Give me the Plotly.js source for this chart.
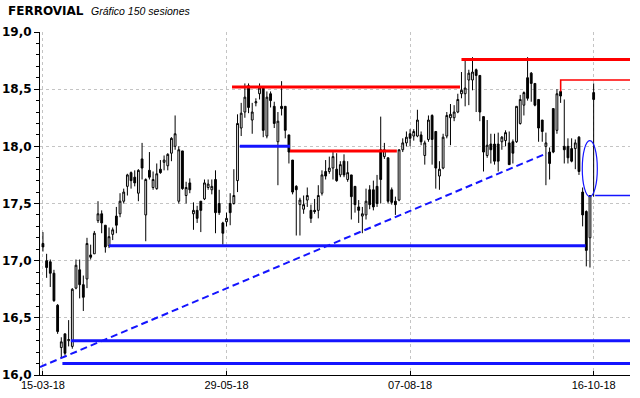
<!DOCTYPE html>
<html><head><meta charset="utf-8">
<script src="https://cdn.plot.ly/plotly-3.0.1.min.js"></script>
<style>html,body{margin:0;padding:0;background:#fff}#chart{width:640px;height:398px}</style>
</head><body><div id="chart"></div>
<script>
// Session index 0..150 (15-03-18 .. 16-10-18)
const tickSessions = [0, 50, 100, 150];
const tickLabels = ['15-03-18', '29-05-18', '07-08-18', '16-10-18'];

const openP = [17.15,17.00,16.99,16.89,16.61,16.24,16.36,16.30,16.25,16.76,16.92,16.79,16.84,17.05,17.06,17.35,17.41,17.31,17.13,17.23,
17.39,17.41,17.52,17.65,17.77,17.73,17.59,17.89,17.40,17.79,17.64,17.63,17.80,17.86,17.83,17.94,18.00,17.52,17.96,17.57,
17.68,17.41,17.44,17.52,17.54,17.64,17.62,17.71,17.50,17.33,17.34,17.50,17.50,17.70,18.16,18.30,18.53,18.23,18.38,18.46,
18.52,18.09,18.46,18.35,18.04,18.35,18.35,18.10,17.88,17.65,17.49,17.45,17.53,17.44,17.44,17.44,17.59,17.78,17.78,17.81,
17.80,17.75,17.87,17.71,17.75,17.65,17.47,17.39,17.40,17.62,17.62,17.65,17.97,17.91,17.90,17.62,17.52,17.53,17.97,18.03,
18.11,18.09,18.09,18.10,17.92,18.06,18.27,18.13,17.74,17.81,18.09,18.25,18.25,18.30,18.46,18.46,18.58,18.58,18.67,18.62,
18.26,17.92,18.02,18.02,18.02,18.04,18.05,18.03,18.04,18.04,18.20,18.36,18.60,18.64,18.55,18.41,18.23,18.00,17.95,18.33,
18.14,18.48,18.00,18.00,17.98,17.98,18.08,17.60,17.43,17.20,18.47];
const highP = [17.25,17.06,17.01,16.92,16.62,16.33,16.36,16.48,16.76,17.01,17.01,16.87,17.20,17.14,17.26,17.52,17.44,17.31,17.29,17.29,
17.47,17.59,17.63,17.76,17.78,17.79,17.80,18.03,17.72,17.95,17.78,17.85,17.88,17.92,17.94,18.08,18.27,18.00,17.96,17.69,
17.72,17.51,17.48,17.52,17.71,17.71,17.71,17.79,17.62,17.34,17.42,17.59,17.80,18.28,18.38,18.55,18.55,18.38,18.42,18.55,
18.52,18.48,18.48,18.39,18.30,18.57,18.35,18.10,17.88,17.66,17.55,17.57,17.64,17.49,17.54,17.66,17.79,17.88,17.91,17.95,
17.94,17.87,17.93,17.87,17.75,17.65,17.53,17.47,17.63,17.66,17.70,17.75,18.26,18.03,17.90,17.64,17.56,17.97,18.07,18.13,
18.15,18.15,18.32,18.13,18.05,18.27,18.28,18.13,17.87,18.11,18.30,18.37,18.36,18.46,18.65,18.77,18.67,18.78,18.68,18.62,
18.26,18.23,18.11,18.11,18.12,18.09,18.14,18.13,18.06,18.35,18.45,18.48,18.78,18.65,18.55,18.41,18.23,18.12,17.99,18.33,
18.50,18.58,18.41,18.07,18.07,18.06,18.09,17.64,17.44,17.57,18.55];
const lowP = [17.08,16.85,16.77,16.64,16.36,16.15,16.17,16.25,16.23,16.75,16.67,16.56,16.76,17.01,17.06,17.33,17.24,17.07,17.11,17.18,
17.24,17.38,17.50,17.57,17.63,17.65,17.52,17.71,17.17,17.71,17.62,17.62,17.76,17.79,17.79,17.87,17.97,17.50,17.62,17.50,
17.59,17.27,17.33,17.25,17.53,17.62,17.58,17.24,17.40,17.14,17.30,17.31,17.49,17.60,18.09,18.25,18.29,18.11,18.35,18.41,
18.08,18.07,18.34,18.16,17.66,18.27,18.07,17.85,17.58,17.22,17.22,17.41,17.47,17.33,17.41,17.37,17.57,17.71,17.76,17.71,
17.69,17.73,17.73,17.69,17.36,17.42,17.33,17.24,17.36,17.45,17.44,17.47,17.50,17.89,17.50,17.49,17.40,17.52,17.95,18.00,
18.00,18.05,18.08,18.01,17.84,18.04,17.84,17.63,17.62,17.80,18.07,18.01,18.22,18.29,18.42,18.35,18.36,18.49,18.30,18.22,
17.78,17.90,17.85,17.84,17.78,17.97,18.00,17.84,17.85,18.03,18.19,18.27,18.40,18.39,18.35,18.04,18.04,17.66,17.71,17.94,
18.11,18.38,17.85,17.85,17.86,17.80,17.75,17.30,16.95,16.94,17.56];
const closeP = [17.12,16.94,16.89,16.65,16.38,16.29,16.19,16.31,16.75,16.96,16.79,16.68,17.15,17.03,17.24,17.41,17.33,17.12,17.21,17.27,
17.31,17.52,17.60,17.75,17.70,17.68,17.79,17.81,17.71,17.73,17.71,17.76,17.77,17.88,17.93,18.07,18.11,17.97,17.63,17.64,
17.62,17.44,17.37,17.44,17.68,17.67,17.65,17.42,17.42,17.24,17.37,17.42,17.57,18.20,18.29,18.43,18.34,18.30,18.39,18.51,
18.14,18.43,18.40,18.20,18.22,18.33,18.14,17.95,17.60,17.62,17.53,17.49,17.57,17.37,17.43,17.57,17.75,17.74,17.81,17.91,
17.70,17.84,17.75,17.77,17.56,17.49,17.44,17.41,17.52,17.49,17.47,17.50,17.71,17.97,17.52,17.51,17.49,17.97,18.03,18.08,
18.07,18.13,18.23,18.04,18.03,18.23,18.06,17.81,17.80,18.08,18.27,18.28,18.30,18.41,18.49,18.51,18.64,18.65,18.62,18.30,
17.95,18.01,17.97,17.87,17.87,18.08,18.12,17.84,17.94,18.35,18.41,18.47,18.42,18.55,18.36,18.16,18.13,18.03,17.85,17.95,
18.46,18.44,17.97,17.90,17.87,18.03,17.78,17.40,17.09,17.57,18.41];

// Drawn lines: [startSession, endSession, level]
const redLevels = [[51.5, 113.6, 18.52], [67.3, 96.4, 17.96], [114.0, 160, 18.76]];
const blueLevels = [[53.6, 67.3, 18.00], [18.0, 147.8, 17.13], [7.6, 160, 16.30], [5.3, 160, 16.10]];
const trendX = [-0.8, 137.3];
const trendY = [16.07, 17.94];
const thinRedX = [141.0, 141.0, 160];
const thinRedY = [18.48, 18.58, 18.58];
const thinBlueX = [150.4, 160];
const thinBlueY = [17.57, 17.57];
const ellipseX = [146.9, 151.0];
const ellipseY = [17.56, 18.05];

const idx = closeP.map((_, i) => i);
const traces = [{
  type: 'candlestick', x: idx, open: openP, high: highP, low: lowP, close: closeP,
  increasing: {fillcolor: '#ffffff', line: {color: '#000000', width: 1}},
  decreasing: {fillcolor: '#000000', line: {color: '#000000', width: 1}},
  whiskerwidth: 0, hoverinfo: 'skip', showlegend: false
}];
redLevels.forEach(r => traces.push({type: 'scatter', mode: 'lines', x: [r[0], r[1]], y: [r[2], r[2]],
  line: {color: '#ff0000', width: 3}, showlegend: false, hoverinfo: 'skip'}));
blueLevels.forEach(b => traces.push({type: 'scatter', mode: 'lines', x: [b[0], b[1]], y: [b[2], b[2]],
  line: {color: '#1414ff', width: 3}, showlegend: false, hoverinfo: 'skip'}));
traces.push({type: 'scatter', mode: 'lines', x: trendX, y: trendY,
  line: {color: '#1414ff', width: 2, dash: '7px,4px'}, showlegend: false, hoverinfo: 'skip'});
traces.push({type: 'scatter', mode: 'lines', x: thinRedX, y: thinRedY,
  line: {color: '#ff0000', width: 1.5}, showlegend: false, hoverinfo: 'skip'});
traces.push({type: 'scatter', mode: 'lines', x: thinBlueX, y: thinBlueY,
  line: {color: '#1414ff', width: 1.5}, showlegend: false, hoverinfo: 'skip'});

const layout = {
  width: 640, height: 398,
  margin: {l: 40, r: 10, t: 32, b: 23, pad: 0},
  paper_bgcolor: '#ffffff', plot_bgcolor: '#ffffff',
  separators: ',.',
  showlegend: false,
  title: {
    text: '<b>FERROVIAL</b>  <span style="font-family:\'Liberation Sans\';font-size:10.5px;font-style:italic;font-weight:normal">Gráfico 150 sesiones</span>',
    font: {family: 'DejaVu Sans', size: 12, color: '#000'},
    x: 8 / 640, xanchor: 'left', xref: 'container', y: 1 - 11 / 398, yanchor: 'middle', yref: 'container'
  },
  xaxis: {
    range: [-0.8, 159.9], tickvals: tickSessions, ticktext: tickLabels,
    showline: true, linecolor: '#000', linewidth: 1, ticks: 'inside', ticklen: 4, tickcolor: '#000',
    showgrid: true, gridcolor: '#c4c4c4', griddash: 'dot', gridwidth: 1, zeroline: false,
    rangeslider: {visible: false}, tickfont: {family: 'Liberation Sans', size: 11, color: '#000'},
    fixedrange: true
  },
  yaxis: {
    range: [16, 19], dtick: 0.5, tick0: 16, tickformat: '.1f',
    showline: true, linecolor: '#000', linewidth: 1, ticks: 'outside', ticklen: 5, tickcolor: '#000',
    minor: {dtick: 0.1, ticks: 'outside', ticklen: 3, tickcolor: '#000', showgrid: false},
    showgrid: true, gridcolor: '#c4c4c4', griddash: 'dot', gridwidth: 1, zeroline: false,
    tickfont: {family: 'DejaVu Sans', size: 12, color: '#000', weight: 'bold'},
    fixedrange: true
  },
  shapes: [{type: 'circle', xref: 'x', yref: 'y', x0: ellipseX[0], x1: ellipseX[1], y0: ellipseY[0], y1: ellipseY[1],
    line: {color: '#1414ff', width: 1.2}, fillcolor: 'rgba(0,0,0,0)'}]
};
Plotly.newPlot('chart', traces, layout, {staticPlot: true, displayModeBar: false});
</script></body></html>
